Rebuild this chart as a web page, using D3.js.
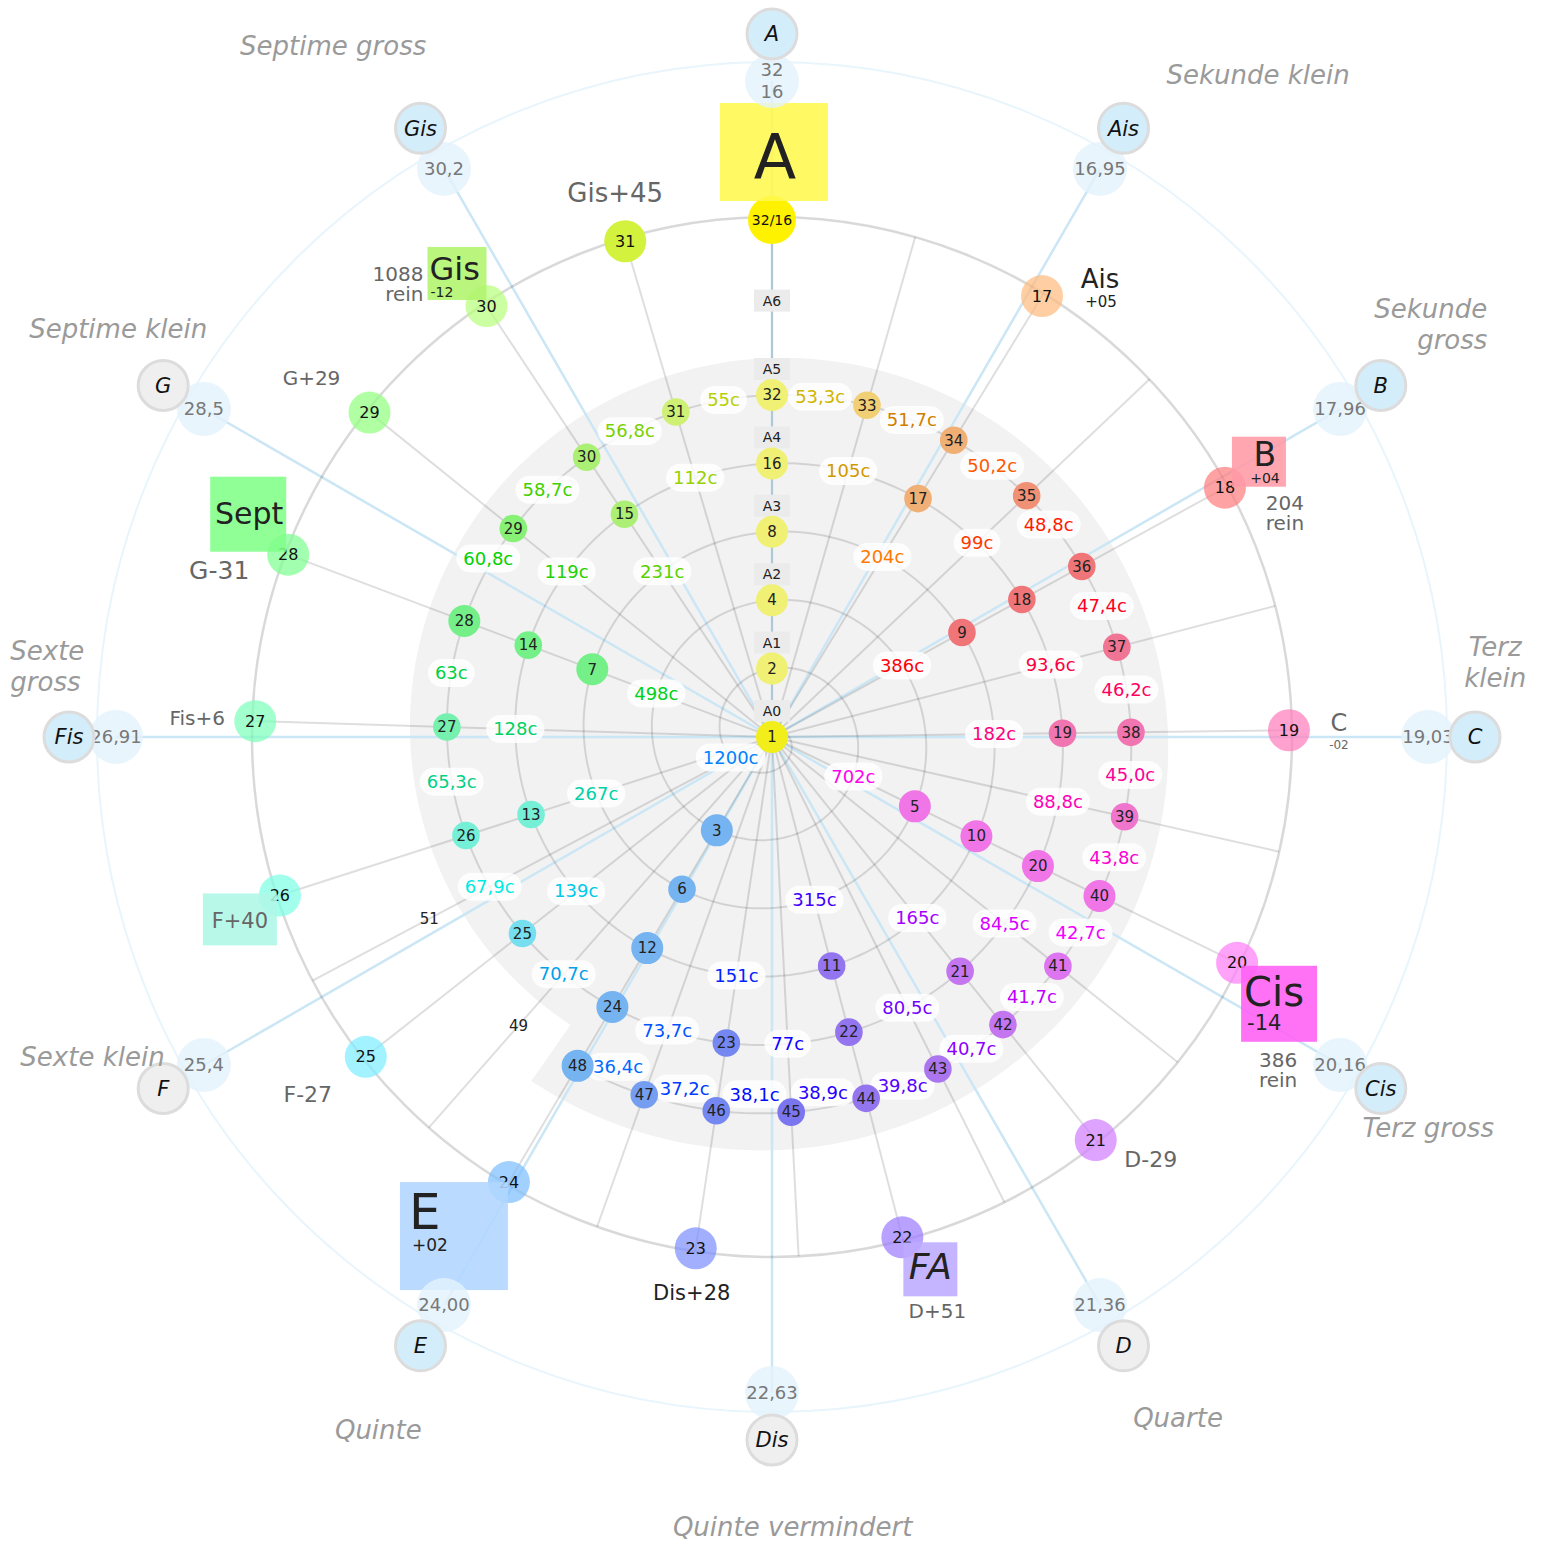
<!DOCTYPE html>
<meta charset="utf-8">
<style>
body { margin: 0; background: #fff; }
svg { font-family: "DejaVu Sans", Verdana, sans-serif; }
.spiral { fill: none; stroke: rgba(0,0,0,0.13); stroke-width: 2px; }
.ray { stroke: rgba(0,0,0,0.13); stroke-width: 2px; }
.tet { stroke: #cbe6f5; stroke-width: 2.5px; }
.ring { fill: none; stroke: rgba(0,0,0,0.15); stroke-width: 2.5px; }
.outer { fill: none; stroke: #e8f5fc; stroke-width: 2px; }
.interval { fill: #9a9a9a; font-style: italic; font-size: 26px; }
</style>
<svg width="1543" height="1545"></svg>
<script src="https://d3js.org/d3.v7.min.js"></script>
<script>

// harmonics on the inner spiral
var harmonics = [1,2,3,4,5,6,7,8,9,10,11,12,13,14,15,16,17,18,19,20,21,22,23,24,
                 25,26,27,28,29,30,31,32,33,34,35,36,37,38,39,40,41,42,43,44,45,46,47,48];
var looseHarmonics = [49, 51];
// interval n -> n+1, in cents
var centsLabels = ["1200c","702c","498c","386c","315c","267c","231c","204c","182c","165c",
  "151c","139c","128c","119c","112c","105c","99c","93,6c","88,8c","84,5c","80,5c","77c",
  "73,7c","70,7c","67,9c","65,3c","63c","60,8c","58,7c","56,8c","55c","53,3c","51,7c",
  "50,2c","48,8c","47,4c","46,2c","45,0c","43,8c","42,7c","41,7c","40,7c","39,8c","38,9c",
  "38,1c","37,2c","36,4c"];
var octaveHarmonics = [1, 2, 4, 8, 16, 32, 64];
var octaveNames = ["A0","A1","A2","A3","A4","A5","A6"];
var rayHarmonics = [1,3,5,7,9,11,13,15,17,19,21,23,25,27,29,31,33,35,37,39,41,43,45,47,49,51];

// outer ring: one octave 16..32
var ringHarmonics = [17,18,19,20,21,22,23,24,25,26,27,28,29,30,31,32];
var ringLabels = ["17","18","19","20","21","22","23","24","25","26","27","28","29","30","31","32/16"];

// tempered notes
var tetNotes = ["A","Ais","B","C","Cis","D","Dis","E","F","Fis","G","Gis"];
var tetFreqs = ["32|16","16,95","17,96","19,03","20,16","21,36","22,63","24,00","25,4","26,91","28,5","30,2"];
var tetMatched = [true,true,true,true,true,false,false,true,false,true,false,true];
var intervalNames = ["Sekunde klein","Sekunde|gross","Terz|klein","Terz gross","Quarte",
  "Quinte vermindert","Quinte","Sexte klein","Sexte|gross","Septime klein","Septime gross"];

// note tags next to the outer ring
var tagN    = [32, 31, 30, 29, 28, 27, 26, 25, 24, 23, 22, 21, 20, 19, 18, 17];
var tagName = ["A","Gis+45","Gis","G+29","Sept","Fis+6","F+40","F-27","E","Dis+28","FA","D-29","Cis","C","B","Ais"];
var tagDev  = ["","","-12","","","","","","+02","","","","-14","-02","+04","+05"];
var tagPure = ["","","1088","","","","","","","","","","386","","204",""];
var tagAlt  = ["","","","","G-31","","","","","","D+51","","","","",""];

// ---- layout ----
var svg = d3.select("svg"),
    width = +svg.attr("width"),
    height = +svg.attr("height"),
    cx = 772, cy = 737;

var tagLayout = {
  32: {box: [-52,-117,108,98,"#fff84d"], name: [3,-41,62,"middle","#222"]},
  31: {name: [-10,-39,26,"middle","#666"]},
  30: {box: [-59,-59,59,53,"#b0f56c"], name: [-57,-26,32,"start","#222"], dev: [-56,-9,14,"start"], pure: [-63,-25,"end"]},
  29: {name: [-58,-28,20,"middle","#666"]},
  28: {box: [-78,-78,76,75,"#80ff88"], name: [-39,-31,30,"middle","#222"], alt: [-69,24,25]},
  27: {name: [-58,4,20,"middle","#666"]},
  26: {box: [-77,-2,74,52,"#aef7e6"], name: [-40,33,21,"middle","#666"]},
  25: {name: [-58,45,22,"middle","#666"]},
  24: {box: [-109,0,108,108,"#b0d6ff"], name: [-100,47,50,"start","#222"], dev: [-97,69,17,"start"]},
  23: {name: [-4,52,21,"middle","#222"]},
  22: {box: [1,5,54,54,"#bdaaff"], name: [28,42,36,"middle","#222",true], alt: [35,81,20]},
  21: {name: [55,27,22,"middle","#666"]},
  20: {box: [4,3,76,76,"#ff5ef5"], name: [7,43,40,"start","#222"], dev: [10,67,21,"start"], pure: [41,104,"middle"]},
  19: {name: [50,1,24,"middle","#666"], dev: [50,19,12,"middle","#666"]},
  18: {box: [7,-51,54,50,"#ff9aa6"], name: [40,-22,33,"middle","#222"], dev: [40,-5,14,"middle"], pure: [60,22,"middle"]},
  17: {name: [58,-8,26,"middle","#222"], dev: [59,11,15,"middle"]}
};
var centsNudge = {1: [-21,-14], 28: [3,-14], 35: [-8,-5], 44: [-6,-15], 45: [1,-19], 46: [5,-16], 47: [8,-15]};
var intervalPos = [[36.3,821,"middle"],[60,826,"end"],[84.1,727,"middle"],[120.8,764,"middle"],
  [149.2,793,"middle"],[178.5,790,"middle"],[209.6,797,"middle"],[244.8,751,"middle"],
  [275.3,765,"start"],[302,771,"middle"],[327.6,819,"middle"]];

var R_RING = 520, R_RINGDOT = 517, R_VAL = 656, R_NOTE = 703, R_OUTER = 675;

var radius = d3.scaleLog().base(2).domain([1, 64]).range([0, 410.4]);
var angle = d3.scaleLinear().domain([0, 1]).range([0, 2 * Math.PI]);
var tetAngle = d3.scaleLinear().domain([0, 12]).range([0, 2 * Math.PI]);

function frac(n) { var t = Math.log2(n); return t - Math.floor(t + 1e-12); }
function xy(a, r) { return [r * Math.sin(a), -r * Math.cos(a)]; }
function spiralXY(n) { return xy(angle(frac(n)), radius(n)); }
function hue(n) { return ((60 - frac(n) * 360) % 360 + 360) % 360; }
function textColor(h) {
  var l = (h > 35 && h < 175) ? 0.41 : (h >= 175 && h < 200 ? 0.46 : 0.5);
  return d3.hsl(h, 1, l) + "";
}

var g = svg.append("g").attr("transform", "translate(" + cx + "," + cy + ")");

// faint outer circle
g.append("circle").attr("class", "outer").attr("r", R_OUTER);

// gray spiral band (one turn past the E direction)
var t0 = Math.log2(24) + 4.4 / 360;
var band = [[angle(t0), 0]].concat(d3.range(0, 1.0001, 0.005).map(function(s) {
  return [angle(t0 + s), radius(Math.pow(2, t0 + s)) + 37];
}));
g.append("path")
  .attr("d", d3.lineRadial().angle(function(d) { return d[0]; }).radius(function(d) { return d[1]; })(band) + "Z")
  .attr("fill", "#f2f2f2");

// tempered note lines
g.selectAll(".tet").data(tetNotes).enter().append("line")
  .attr("class", "tet")
  .attr("x1", 0).attr("y1", 0)
  .attr("x2", function(d, i) { return xy(tetAngle(i), R_VAL)[0]; })
  .attr("y2", function(d, i) { return xy(tetAngle(i), R_VAL)[1]; });

// harmonic rays
g.selectAll(".ray").data(rayHarmonics).enter().append("line")
  .attr("class", "ray")
  .attr("x1", 0).attr("y1", 0)
  .attr("x2", function(d) { return xy(angle(frac(d)), R_RING)[0]; })
  .attr("y2", function(d) { return xy(angle(frac(d)), R_RING)[1]; });

// spiral
var ts = d3.range(0, Math.log2(48) + 0.0001, 0.004);
g.append("path").attr("class", "spiral")
  .attr("d", d3.lineRadial()
    .angle(function(t) { return angle(t); })
    .radius(function(t) { return radius(Math.pow(2, t)); })(ts));

// outer ring
g.append("circle").attr("class", "ring").attr("r", R_RING);

// octave labels
var oct = g.selectAll(".oct").data(octaveHarmonics).enter().append("g")
  .attr("class", "oct")
  .attr("transform", function(d) { var p = spiralXY(d); return "translate(" + p[0] + "," + (p[1] - 26) + ")"; });
oct.append("rect").attr("x", -18).attr("y", -11).attr("width", 36).attr("height", 22).attr("fill", "#ebebeb");
oct.append("text").attr("text-anchor", "middle").attr("dy", "0.35em")
  .style("font-size", "14px").attr("fill", "#222")
  .text(function(d, i) { return octaveNames[i]; });

// cents labels between n and n+1
var cl = g.selectAll(".cents").data(centsLabels).enter().append("g")
  .attr("class", "cents")
  .attr("transform", function(d, i) {
    var n = i + 1, p = spiralXY(n + 0.5), nd = centsNudge[n] || [0, 0];
    return "translate(" + (p[0] + nd[0]) + "," + (p[1] + nd[1]) + ")";
  });
cl.append("rect").attr("fill", "#fff").attr("fill-opacity", 0.82);
cl.append("text").attr("text-anchor", "middle").attr("dy", "0.35em")
  .style("font-size", "18px")
  .attr("fill", function(d, i) { return textColor(hue(i + 1.5)); })
  .text(function(d) { return d; });
cl.each(function() {
  var w = d3.select(this).select("text").node().getComputedTextLength() + 14;
  d3.select(this).select("rect").attr("x", -w / 2).attr("y", -14).attr("width", w).attr("height", 28)
    .attr("rx", 14);
});

// inner harmonic circles
function oddPart(n) { while (n % 2 === 0) n /= 2; return n; }
var hc = g.selectAll(".harm").data(harmonics).enter().append("g")
  .attr("class", "harm")
  .attr("transform", function(d) { var p = spiralXY(d); return "translate(" + p[0] + "," + p[1] + ")"; });
hc.append("circle")
  .attr("r", function(d) { return [1,3,5,7].indexOf(oddPart(d)) >= 0 && d !== 6 && d !== 14 ? 16 : 13.8; })
  .attr("fill", function(d) { return d === 1 ? "#f2ee1c" : d3.hsl(hue(d), 0.8, 0.7) + ""; });
hc.append("text").attr("text-anchor", "middle").attr("dy", "0.35em")
  .style("font-size", "15px").attr("fill", "#222")
  .text(function(d) { return d; });

g.selectAll(".loose").data(looseHarmonics).enter().append("text")
  .attr("x", function(d) { return spiralXY(d)[0]; })
  .attr("y", function(d) { return spiralXY(d)[1]; })
  .attr("text-anchor", "middle").attr("dy", "0.35em")
  .style("font-size", "15px").attr("fill", "#222")
  .text(function(d) { return d; });

// outer ring circles
function ringXY(n) { return xy(angle(frac(n)), R_RINGDOT); }
var rc = g.selectAll(".rdot").data(ringHarmonics).enter().append("g")
  .attr("class", "rdot")
  .attr("transform", function(d) { var p = ringXY(d); return "translate(" + p[0] + "," + p[1] + ")"; });
rc.append("circle")
  .attr("r", function(d) { return d === 32 ? 24 : 21; })
  .attr("fill", function(d) {
    if (d === 32) return "#fff200";
    if (d === 31) return "#d2f23e";
    return d3.hsl(hue(d), 1, 0.74) + "";
  })
  .attr("fill-opacity", function(d) { return d >= 31 ? 1 : 0.7; });

// tags
tagN.forEach(function(n, i) {
  var L = tagLayout[n], p = ringXY(n);
  var tg = g.append("g").attr("transform", "translate(" + p[0] + "," + p[1] + ")");
  if (L.box) {
    tg.append("rect").attr("x", L.box[0]).attr("y", L.box[1])
      .attr("width", L.box[2]).attr("height", L.box[3])
      .attr("fill", L.box[4]).attr("fill-opacity", 0.88);
  }
  tg.append("text").attr("x", L.name[0]).attr("y", L.name[1])
    .attr("text-anchor", L.name[3]).attr("fill", L.name[4])
    .style("font-size", L.name[2] + "px")
    .style("font-style", L.name[5] ? "italic" : null)
    .text(tagName[i]);
  if (L.dev && tagDev[i]) {
    tg.append("text").attr("x", L.dev[0]).attr("y", L.dev[1])
      .attr("text-anchor", L.dev[3]).attr("fill", L.dev[4] || "#222")
      .style("font-size", L.dev[2] + "px")
      .text(tagDev[i]);
  }
  if (L.pure && tagPure[i]) {
    [tagPure[i], "rein"].forEach(function(s, j) {
      tg.append("text").attr("x", L.pure[0]).attr("y", L.pure[1] + j * 20)
        .attr("text-anchor", L.pure[2]).attr("fill", "#666")
        .style("font-size", "20px").text(s);
    });
  }
  if (L.alt && tagAlt[i]) {
    tg.append("text").attr("x", L.alt[0]).attr("y", L.alt[1])
      .attr("text-anchor", "middle").attr("fill", "#666")
      .style("font-size", L.alt[2] + "px").text(tagAlt[i]);
  }
});

// ring numbers on top
rc.append("text").attr("text-anchor", "middle").attr("dy", "0.35em")
  .style("font-size", function(d) { return d === 32 ? "14px" : "16px"; })
  .attr("fill", "#111")
  .text(function(d, i) { return ringLabels[i]; });

// tempered frequency circles
var vc = g.selectAll(".val").data(tetFreqs).enter().append("g")
  .attr("class", "val")
  .attr("transform", function(d, i) { var p = xy(tetAngle(i), R_VAL); return "translate(" + p[0] + "," + p[1] + ")"; });
vc.append("circle").attr("r", 27).attr("fill", "#e3f3fc").attr("fill-opacity", 0.8);
vc.each(function(d) {
  var parts = d.split("|"), sel = d3.select(this);
  parts.forEach(function(s, j) {
    sel.append("text").attr("text-anchor", "middle")
      .attr("y", (j - (parts.length - 1) / 2) * 22).attr("dy", "0.35em")
      .style("font-size", "18px").attr("fill", "#787878").text(s);
  });
});

// tempered note circles
var nc = g.selectAll(".note").data(tetNotes).enter().append("g")
  .attr("class", "note")
  .attr("transform", function(d, i) { var p = xy(tetAngle(i), R_NOTE); return "translate(" + p[0] + "," + p[1] + ")"; });
nc.append("circle").attr("r", 25)
  .attr("fill", function(d, i) { return tetMatched[i] ? "#d4edfb" : "#efefef"; })
  .attr("stroke", "#dcdcdc").attr("stroke-width", 3);
nc.append("text").attr("text-anchor", "middle").attr("dy", "0.35em")
  .style("font-size", "21px").style("font-style", "italic").attr("fill", "#111")
  .text(function(d) { return d; });

// interval names
intervalNames.forEach(function(name, i) {
  var lp = intervalPos[i], p = xy(lp[0] * Math.PI / 180, lp[1]);
  var parts = name.split("|");
  parts.forEach(function(s, j) {
    g.append("text").attr("class", "interval")
      .attr("x", p[0]).attr("y", p[1] + (j - (parts.length - 1) / 2) * 31)
      .attr("dy", "0.35em").attr("text-anchor", lp[2]).text(s);
  });
});

</script>
